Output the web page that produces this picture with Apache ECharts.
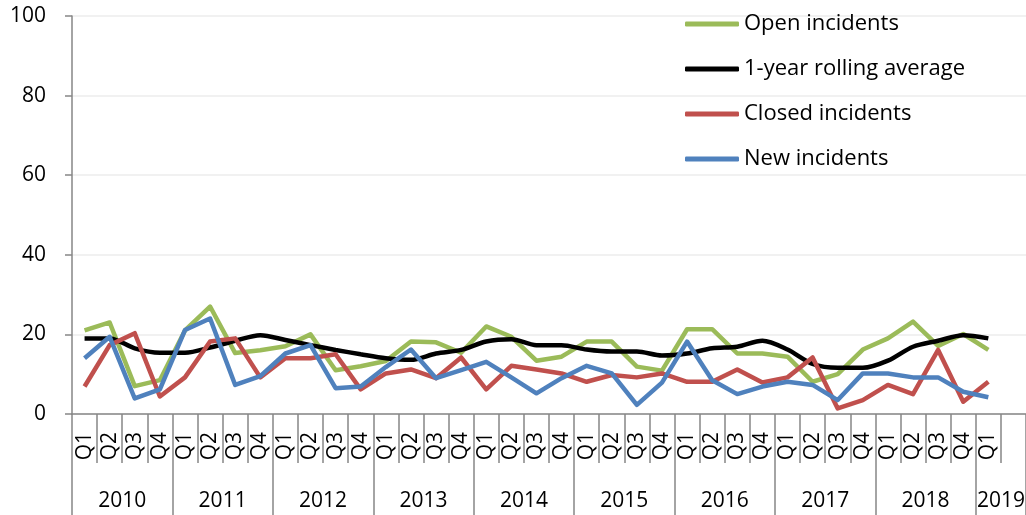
<!DOCTYPE html>
<html>
<head>
<meta charset="utf-8">
<script src="https://cdn.jsdelivr.net/npm/echarts@6/dist/echarts.min.js"></script>
<style>
html,body{margin:0;padding:0;background:#fff}
#main{width:1026px;height:515px}
</style>
</head>
<body>
<div id="main"></div>
<script>
// 年份和季度
var years = ['2010','2011','2012','2013','2014','2015','2016','2017','2018','2019'];
var quarters = ['Q1','Q2','Q3','Q4'];
var yTicks = [0, 20, 40, 60, 80, 100];

// Q1 2010 .. Q1 2019
var openIncidents = [21,23,7,8.5, 21,27,15.3,16, 17,20,11,12, 13.3,18.2,18,15.4, 22,19.4,13.4,14.4, 18.2,18.2,11.9,10.9, 21.3,21.3,15.2,15.2, 14.4,8.1,10,16.2, 19,23.2,17.1,20.1, 16.1];
var rollingAverage = [19,19,16.5,15.4, 15.4,16.7,18.4,19.8, 18.6,17.3,16.1,15, 14,13.6,15.2,16.1, 18.2,18.8,17.3,17.3, 16.2,15.7,15.7,14.7, 15.2,16.5,16.9,18.4, 16.2,12.6,11.6,11.6, 13.4,16.9,18.4,19.8, 19];
var closedIncidents = [6.9,17.3,20.3,4.4, 9.2,18.2,19,9.2, 14,14,15,6.2, 10.2,11.2,9,14.2, 6.2,12.1,11.2,10.2, 8.1,9.8,9.2,10.2, 8.1,8.1,11.2,7.9, 9.2,14.2,1.4,3.5, 7.3,5,16.1,3.1, 8.1];
var newIncidents = [14,19.4,3.9,6.2, 21.1,24,7.3,9.5, 15.2,17.3,6.5,6.9, 11.8,16.2,9,11, 13.1,9.2,5.2,9, 12.1,10.2,2.3,7.9, 18.2,8.5,5,6.9, 8.1,7.3,3.5,10.2, 10.2,9.2,9.2,5.6, 4.2];

var nPoints = openIncidents.length;   // 37
var nBands = nPoints + 1;             // 最后留一个空位

// 季度类目
var quarterCats = [];
for (var i = 0; i < nBands; i++) {
    quarterCats.push(i < nPoints ? quarters[i % 4] : '');
}
// 年份轴：按半个季度划分的边界点
var yearCats = [];
for (var k = 0; k <= nBands * 2; k++) yearCats.push('');
for (var y = 0; y < years.length; y++) {
    var mid = y * 8 + 4;
    if (mid + 4 <= nBands * 2) {
        yearCats[mid] = years[y];
    } else {
        yearCats[Math.round((y * 8 + nBands * 2) / 2)] = years[y];
    }
}

var axisColor = '#868686';
var font = 'Open Sans';

var myChart = echarts.init(document.getElementById('main'));
var option = {
    animation: false,
    grid: {
        left: 72,
        right: 0,
        top: 16,
        bottom: 101,
        outerBoundsMode: 'none'
    },
    legend: {
        orient: 'vertical',
        left: 680,
        top: 7,
        itemWidth: 54,
        itemHeight: 5,
        itemGap: 21,
        icon: 'roundRect',
        textStyle: {fontFamily: font, fontSize: 22, color: '#000', lineHeight: 24},
        data: ['Open incidents', '1-year rolling average', 'Closed incidents', 'New incidents']
    },
    xAxis: [{
        type: 'category',
        data: quarterCats,
        boundaryGap: true,
        axisLine: {lineStyle: {color: axisColor, width: 1.5}},
        axisTick: {show: true, interval: 0, length: 49, lineStyle: {color: axisColor, width: 1.5}},
        axisLabel: {interval: 0, rotate: 90, margin: 18, fontFamily: font, fontSize: 21, color: '#000'},
        splitLine: {show: false}
    }, {
        type: 'category',
        data: yearCats,
        position: 'bottom',
        boundaryGap: false,
        axisLine: {show: false},
        axisTick: {
            show: true,
            length: 110,
            interval: function (index) { return index % 8 === 0 || index === nBands * 2; },
            lineStyle: {color: axisColor, width: 1.5}
        },
        axisLabel: {interval: 0, margin: 77, fontFamily: font, fontSize: 21, color: '#000'},
        splitLine: {show: false}
    }],
    yAxis: {
        type: 'value',
        min: yTicks[0],
        max: yTicks[yTicks.length - 1],
        interval: yTicks[1] - yTicks[0],
        axisLine: {show: true, lineStyle: {color: axisColor, width: 1.5}},
        axisTick: {show: true, length: 7, lineStyle: {color: axisColor, width: 1.5}},
        axisLabel: {margin: 26, fontFamily: font, fontSize: 21, color: '#000'},
        splitLine: {lineStyle: {color: '#ececec', width: 1.5}}
    },
    series: [{
        name: 'Open incidents',
        type: 'line',
        symbol: 'none',
        data: openIncidents,
        itemStyle: {color: '#9bbb59'},
        lineStyle: {color: '#9bbb59', width: 4.5, join: 'round'}
    }, {
        name: '1-year rolling average',
        type: 'line',
        symbol: 'none',
        smooth: 0.3,
        data: rollingAverage,
        itemStyle: {color: '#000'},
        lineStyle: {color: '#000', width: 4.5}
    }, {
        name: 'Closed incidents',
        type: 'line',
        symbol: 'none',
        data: closedIncidents,
        itemStyle: {color: '#c0504d'},
        lineStyle: {color: '#c0504d', width: 4.5, join: 'round'}
    }, {
        name: 'New incidents',
        type: 'line',
        symbol: 'none',
        data: newIncidents,
        itemStyle: {color: '#4f81bd'},
        lineStyle: {color: '#4f81bd', width: 4.5, join: 'round'}
    }]
};
myChart.setOption(option);
</script>
</body>
</html>
